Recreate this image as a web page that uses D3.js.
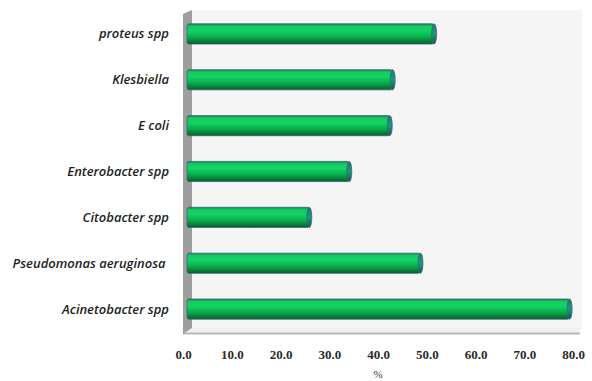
<!DOCTYPE html>
<html>
<head>
<meta charset="utf-8">
<script src="https://cdn.jsdelivr.net/npm/d3@7"></script>
<style>
  body { margin: 0; background: #fff; }
  svg { display: block; }
</style>
</head>
<body>
<div id="chart"></div>
<script>
// data, top bar first
const categories = ["proteus spp", "Klesbiella", "E coli", "Enterobacter spp",
  "Citobacter spp", "Pseudomonas aeruginosa ", "Acinetobacter spp"];
const values = [51.1, 42.6, 42.0, 33.7, 25.5, 48.3, 78.9];
const tickValues = [0, 10, 20, 30, 40, 50, 60, 70, 80];

const W = 592, H = 381;
const depthX = 9, depthY = 5; // 3d offset of the back wall

const svg = d3.select("#chart").append("svg")
  .attr("width", W)
  .attr("height", H);

const x = d3.scaleLinear().domain([0, 80]).range([183, 573]);
const y = d3.scaleBand().domain(categories).range([11, 332]).paddingInner(0.56).paddingOuter(0.28);

const defs = svg.append("defs");
const grad = defs.append("linearGradient")
  .attr("id", "cyl").attr("x1", 0).attr("y1", 0).attr("x2", 0).attr("y2", 1);
[["0%", "#0b8a44"], ["12%", "#19c865"], ["35%", "#12d463"], ["65%", "#0aad4d"], ["88%", "#087a38"], ["100%", "#065a2b"]]
  .forEach(s => grad.append("stop").attr("offset", s[0]).attr("stop-color", s[1]));
const capGrad = defs.append("linearGradient")
  .attr("id", "cap").attr("x1", 0).attr("y1", 0).attr("x2", 0).attr("y2", 1);
[["0%", "#1d7a6a"], ["50%", "#1a9a78"], ["100%", "#0f5a4a"]]
  .forEach(s => capGrad.append("stop").attr("offset", s[0]).attr("stop-color", s[1]));

// walls
const x0 = x(0), wallTop = 10, wallBottom = 333;
svg.append("rect")
  .attr("x", x0 + depthX).attr("y", wallTop)
  .attr("width", 582 - x0 - depthX).attr("height", wallBottom - depthY - wallTop)
  .attr("fill", "#f5f5f5");
// floor
svg.append("path")
  .attr("d", `M${x0},${wallBottom} L${x0 + depthX},${wallBottom - depthY} L583,${wallBottom - depthY} L577,${wallBottom} Z`)
  .attr("fill", "#f0f0f0");
svg.append("line")
  .attr("x1", x0).attr("x2", 580).attr("y1", wallBottom + 0.5).attr("y2", wallBottom + 0.5)
  .attr("stroke", "#b8b8b8").attr("stroke-width", 2);
// left side wall
svg.append("path")
  .attr("d", `M${x0},${wallTop + 4} L${x0 + depthX},${wallTop} L${x0 + depthX},${wallBottom - depthY} L${x0},${wallBottom + 1} Z`)
  .attr("fill", "#9e9e9e");

// bars
const bx = d => x(d) + 4;
const g = svg.append("g");
const bars = g.selectAll("g.bar")
  .data(categories.map((c, i) => ({ c, v: values[i] })))
  .join("g").attr("class", "bar");

bars.append("rect")
  .attr("x", bx(0))
  .attr("y", d => y(d.c))
  .attr("width", d => bx(d.v) - bx(0) - 2)
  .attr("height", y.bandwidth())
  .attr("rx", 2)
  .attr("fill", "url(#cyl)")
  .attr("stroke", "#3d6480")
  .attr("stroke-width", 0.8);

bars.append("ellipse")
  .attr("cx", d => bx(d.v) - 2)
  .attr("cy", d => y(d.c) + y.bandwidth() / 2)
  .attr("rx", 2.5)
  .attr("ry", y.bandwidth() / 2)
  .attr("fill", "url(#cap)")
  .attr("stroke", "#3d6480")
  .attr("stroke-width", 0.8);

// category labels
svg.append("g").selectAll("text")
  .data(categories)
  .join("text")
  .attr("x", 169)
  .attr("y", d => y(d) + y.bandwidth() / 2 + 4.5)
  .attr("text-anchor", "end")
  .style("white-space", "pre")
  .attr("font-family", "'Open Sans', sans-serif")
  .attr("font-style", "italic")
  .attr("font-weight", 600)
  .attr("font-size", 13)
  .attr("fill", "#1e1e1e")
  .text(d => d);

// x axis (labels only)
const xAxis = d3.axisBottom(x).tickValues(tickValues).tickFormat(d3.format(".1f")).tickSize(0);
const ax = svg.append("g").attr("transform", "translate(0,347)").call(xAxis);
ax.select(".domain").remove();
ax.selectAll("text")
  .attr("font-family", "'Liberation Serif', serif")
  .attr("font-weight", "bold")
  .attr("font-size", 13)
  .attr("fill", "#2a2a2a");

svg.append("text")
  .attr("x", x(40))
  .attr("y", 378)
  .attr("text-anchor", "middle")
  .attr("font-family", "'Liberation Serif', serif")
  .attr("font-size", 11)
  .attr("fill", "#333")
  .text("%");
</script>
</body>
</html>
